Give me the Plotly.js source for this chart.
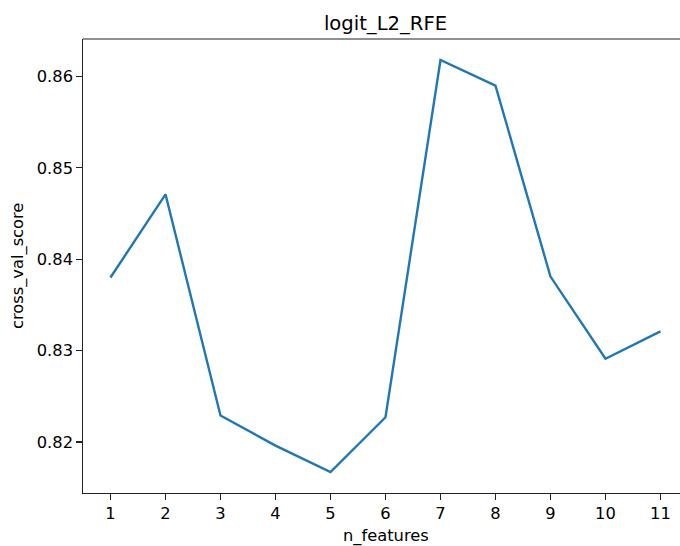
<!DOCTYPE html>
<html>
<head>
<meta charset="utf-8">
<script src="https://cdn.plot.ly/plotly-3.0.1.min.js"></script>
<style>
html,body{margin:0;padding:0;overflow:hidden;background:#fff;}
#chart{width:680px;height:546px;}
</style>
</head>
<body>
<div id="chart"></div>
<script>
const nFeatures = [1, 2, 3, 4, 5, 6, 7, 8, 9, 10, 11];
const cvScore = [0.8380, 0.8471, 0.8229, 0.8196, 0.8167, 0.8227, 0.8618, 0.8590, 0.8381, 0.8291, 0.8321];
const xTicks = [1, 2, 3, 4, 5, 6, 7, 8, 9, 10, 11];
const yTicks = [0.82, 0.83, 0.84, 0.85, 0.86];

const font = {family: 'DejaVu Sans', size: 16.3, color: '#000'};

Plotly.newPlot('chart', [{
  x: nFeatures,
  y: cvScore,
  type: 'scatter',
  mode: 'lines',
  line: {color: '#1f77b4', width: 2.4},
  hoverinfo: 'skip'
}], {
  width: 680,
  height: 546,
  margin: {l: 83, r: 0, t: 39, b: 53},
  paper_bgcolor: '#fff',
  plot_bgcolor: '#fff',
  font: font,
  showlegend: false,
  title: {
    text: 'logit_L2_RFE',
    font: {family: 'DejaVu Sans', size: 19.6, color: '#000'},
    x: 385.5 / 680, xanchor: 'center', xref: 'container',
    y: 1 - 23 / 546, yanchor: 'middle', yref: 'container'
  },
  xaxis: {
    range: [0.5, 11.355],
    tickmode: 'array',
    tickvals: xTicks,
    ticktext: xTicks.map(String),
    ticks: 'outside', ticklen: 5.5, tickwidth: 1.2, tickcolor: '#222',
    showline: true, linecolor: '#222', linewidth: 1.2, mirror: false,
    showgrid: false, zeroline: false,
    tickfont: font
  },
  yaxis: {
    range: [0.81441, 0.8641],
    tickmode: 'array',
    tickvals: yTicks,
    ticktext: yTicks.map(v => v.toFixed(2)),
    ticks: 'outside', ticklen: 5.5, tickwidth: 1.2, tickcolor: '#222',
    showline: true, linecolor: '#222', linewidth: 1.2, mirror: false,
    showgrid: false, zeroline: false,
    tickfont: font
  },
  shapes: [{
    type: 'line', xref: 'paper', yref: 'paper',
    x0: 0, x1: 1, y0: 1, y1: 1,
    line: {color: '#222', width: 1.2}
  }],
  annotations: [{
    text: 'n_features', xref: 'paper', yref: 'paper',
    x: (385.5 - 83) / 597, y: 0, xanchor: 'center', yanchor: 'middle',
    yshift: -42.5, showarrow: false, font: font
  }, {
    text: 'cross_val_score', xref: 'paper', yref: 'paper',
    x: 0, y: 0.5, xanchor: 'center', yanchor: 'middle', textangle: -90,
    xshift: -65, showarrow: false, font: font
  }]
}, {staticPlot: true, displayModeBar: false});
</script>
</body>
</html>
